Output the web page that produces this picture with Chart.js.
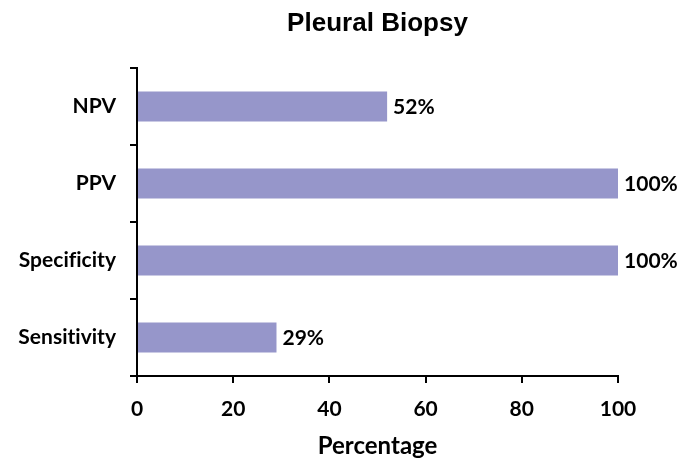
<!DOCTYPE html>
<html>
<head>
<meta charset="utf-8">
<script src="https://cdn.jsdelivr.net/npm/chart.js@4"></script>
<style>
  html, body { margin: 0; padding: 0; background: #fff; }
  #wrap { width: 693px; height: 463px; }
  canvas { font-variant-ligatures: none; text-rendering: optimizeSpeed; }
</style>
</head>
<body>
<div id="wrap"><canvas id="biopsyChart" width="693" height="463"></canvas></div>
<script>
const categories = ['NPV', 'PPV', 'Specificity', 'Sensitivity'];
const percentValues = [52, 100, 100, 29];
const xTicks = [0, 20, 40, 60, 80, 100];

const labelFont = { family: 'Lato', weight: 'bold', size: 21 };

// Lato joins "fi"/"ti" by default; switch that off for the canvas text
const noLigatures = {
    id: 'noLigatures',
    beforeDraw(chart) {
        chart.ctx.textRendering = 'optimizeSpeed';
        chart.ctx.letterSpacing = '0.01px';
    }
};

// value labels at the end of each bar
const barLabels = {
    id: 'barLabels',
    afterDatasetsDraw(chart) {
        const ctx = chart.ctx;
        const meta = chart.getDatasetMeta(0);
        ctx.save();
        ctx.font = 'bold 21px Lato';
        ctx.fillStyle = '#000';
        ctx.textAlign = 'left';
        ctx.textBaseline = 'middle';
        meta.data.forEach((bar, i) => {
            ctx.fillText(percentValues[i] + '%', bar.x + 6, bar.y + 1);
        });
        ctx.restore();
    }
};

const ctx = document.getElementById('biopsyChart').getContext('2d');
new Chart(ctx, {
    type: 'bar',
    data: {
        labels: categories,
        datasets: [{
            label: 'Pleural Biopsy',
            data: percentValues,
            backgroundColor: 'rgb(150, 150, 202)',
            borderWidth: 0,
            categoryPercentage: 1,
            barPercentage: 0.39
        }]
    },
    options: {
        indexAxis: 'y',
        responsive: false,
        animation: false,
        layout: { padding: { left: 0, right: 75, top: 0, bottom: 0 } },
        plugins: {
            legend: { display: false },
            tooltip: { enabled: false },
            title: {
                display: true,
                text: 'Pleural Biopsy',
                fullSize: false,
                color: '#000',
                font: { family: 'Liberation Sans', weight: 'bold', size: 26 },
                padding: { top: 8, bottom: 28.8 }
            }
        },
        scales: {
            x: {
                min: 0,
                max: 100,
                afterBuildTicks(scale) {
                    scale.ticks = xTicks.map(v => ({ value: v }));
                },
                afterFit(scale) { scale.height = 87; },
                border: { color: '#000', width: 2 },
                grid: { drawOnChartArea: false, drawTicks: true, tickLength: 7, color: '#000', lineWidth: 2 },
                ticks: { color: '#000', font: labelFont, padding: 14, maxRotation: 0 },
                title: {
                    display: true,
                    text: 'Percentage',
                    color: '#000',
                    font: { family: 'Lato', weight: 'bold', size: 24 },
                    padding: { top: 0, bottom: 2 }
                }
            },
            y: {
                afterFit(scale) { scale.width = 137; },
                border: { color: '#000', width: 2 },
                grid: { offset: true, drawOnChartArea: false, drawTicks: true, tickLength: 7, color: '#000', lineWidth: 2 },
                ticks: { color: '#000', font: labelFont, padding: 14 }
            }
        }
    },
    plugins: [noLigatures, barLabels]
});
</script>
</body>
</html>
